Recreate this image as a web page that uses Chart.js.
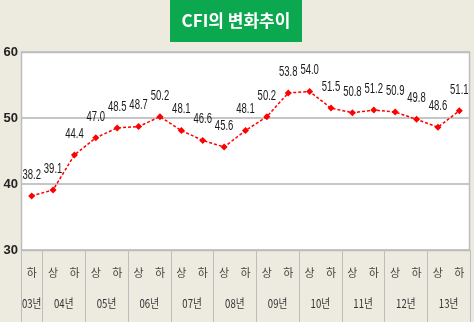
<!DOCTYPE html>
<html>
<head>
<meta charset="utf-8">
<script src="https://cdn.jsdelivr.net/npm/chart.js@4"></script>
<style>
html,body{margin:0;padding:0;background:#EDEBE0;}
canvas{display:block;}
</style>
</head>
<body>
<canvas id="c" width="474" height="322"></canvas>
<script>
const titleText = 'CFI의 변화추이';
const periods = ['하','상','하','상','하','상','하','상','하','상','하','상','하','상','하','상','하','상','하','상','하'];
const years = ['03년','04년','05년','06년','07년','08년','09년','10년','11년','12년','13년'];
const cfi = [38.2,39.1,44.4,47.0,48.5,48.7,50.2,48.1,46.6,45.6,48.1,50.2,53.8,54.0,51.5,50.8,51.2,50.9,49.8,48.6,51.1];
const yTicks = [30,40,50,60];

const BG = '#EDEBE0';
const KR = "'Noto Sans CJK KR', sans-serif";
const SANS = "'Liberation Sans', 'DejaVu Sans', sans-serif";

function narrowText(ctx, text, x, y, sx) {
  ctx.save();
  ctx.translate(x, y);
  ctx.scale(sx, 1);
  ctx.fillText(text, 0, 0);
  ctx.restore();
}

const decor = {
  id: 'decor',
  beforeDraw(chart) {
    const {ctx, chartArea: a} = chart;
    ctx.save();
    ctx.fillStyle = BG;
    ctx.fillRect(0, 0, chart.width, chart.height);
    ctx.fillStyle = '#FFFFFF';
    ctx.fillRect(a.left, a.top, a.right - a.left, a.bottom - a.top);
    // title box
    ctx.fillStyle = '#0BA84F';
    ctx.fillRect(170, 0, 132, 42);
    ctx.fillStyle = '#FFFFFF';
    ctx.font = "bold 17px " + KR;
    ctx.textAlign = 'center';
    ctx.textBaseline = 'middle';
    ctx.fillText(titleText, 236, 21);
    ctx.restore();
  },
  afterDraw(chart) {
    const {ctx, chartArea: a} = chart;
    const xs = chart.scales.x;
    ctx.save();
    // plot border
    ctx.strokeStyle = '#BDBDBD';
    ctx.lineWidth = 1.5;
    ctx.strokeRect(a.left + 0.5, a.top + 0.5, a.right - a.left - 1, a.bottom - a.top);
    // year groups
    const step = xs.getPixelForValue(1) - xs.getPixelForValue(0);
    const groups = years.map((y, k) => k === 0 ? [0, 0] : [2 * k - 1, 2 * k]);
    ctx.strokeStyle = '#BDBDBD';
    ctx.lineWidth = 1;
    const bounds = [a.left];
    groups.forEach(g => bounds.push(xs.getPixelForValue(g[1]) + step / 2));
    bounds.forEach(bx => {
      const x = Math.round(bx) + 0.5;
      ctx.beginPath();
      ctx.moveTo(x, a.bottom);
      ctx.lineTo(x, chart.height);
      ctx.stroke();
    });
    ctx.fillStyle = '#333333';
    ctx.font = "12px " + KR;
    ctx.textAlign = 'center';
    ctx.textBaseline = 'middle';
    groups.forEach((g, k) => {
      const cx = (xs.getPixelForValue(g[0]) + xs.getPixelForValue(g[1])) / 2;
      narrowText(ctx, years[k], cx, 303, 0.8);
    });
    // data labels
    const meta = chart.getDatasetMeta(0);
    ctx.fillStyle = '#1A1A1A';
    ctx.font = "14px " + SANS;
    meta.data.forEach((pt, i) => {
      narrowText(ctx, cfi[i].toFixed(1), pt.x, pt.y - 21, 0.68);
    });
    ctx.restore();
  }
};

new Chart(document.getElementById('c'), {
  type: 'line',
  data: {
    labels: periods,
    datasets: [{
      data: cfi,
      borderColor: '#FF0000',
      backgroundColor: '#FF0000',
      borderWidth: 1.5,
      borderDash: [3, 2],
      pointStyle: 'rectRot',
      pointRadius: 3.5,
      pointBackgroundColor: '#FF0000',
      pointBorderColor: '#FF0000',
      pointBorderWidth: 0,
      tension: 0,
      fill: false
    }]
  },
  options: {
    responsive: false,
    animation: false,
    events: [],
    layout: {padding: {top: 52, right: 3, left: 0, bottom: 0}},
    plugins: {legend: {display: false}, tooltip: {enabled: false}, title: {display: false}},
    scales: {
      x: {
        type: 'category',
        offset: true,
        grid: {display: false},
        border: {display: false},
        ticks: {
          autoSkip: false,
          maxRotation: 0,
          padding: 8,
          color: '#444444',
          font: {family: KR, size: 11}
        },
        afterFit(s) { s.height = 72; }
      },
      y: {
        min: 30,
        max: 60,
        afterBuildTicks(s) { s.ticks = yTicks.map(v => ({value: v})); },
        grid: {color: '#C6C6C6', lineWidth: 2, drawTicks: false},
        border: {display: false},
        ticks: {
          padding: 3,
          color: '#222222',
          font: {family: SANS, size: 13, weight: 'bold'}
        },
        afterFit(s) { s.width = 21; }
      }
    }
  },
  plugins: [decor]
});
</script>
</body>
</html>
